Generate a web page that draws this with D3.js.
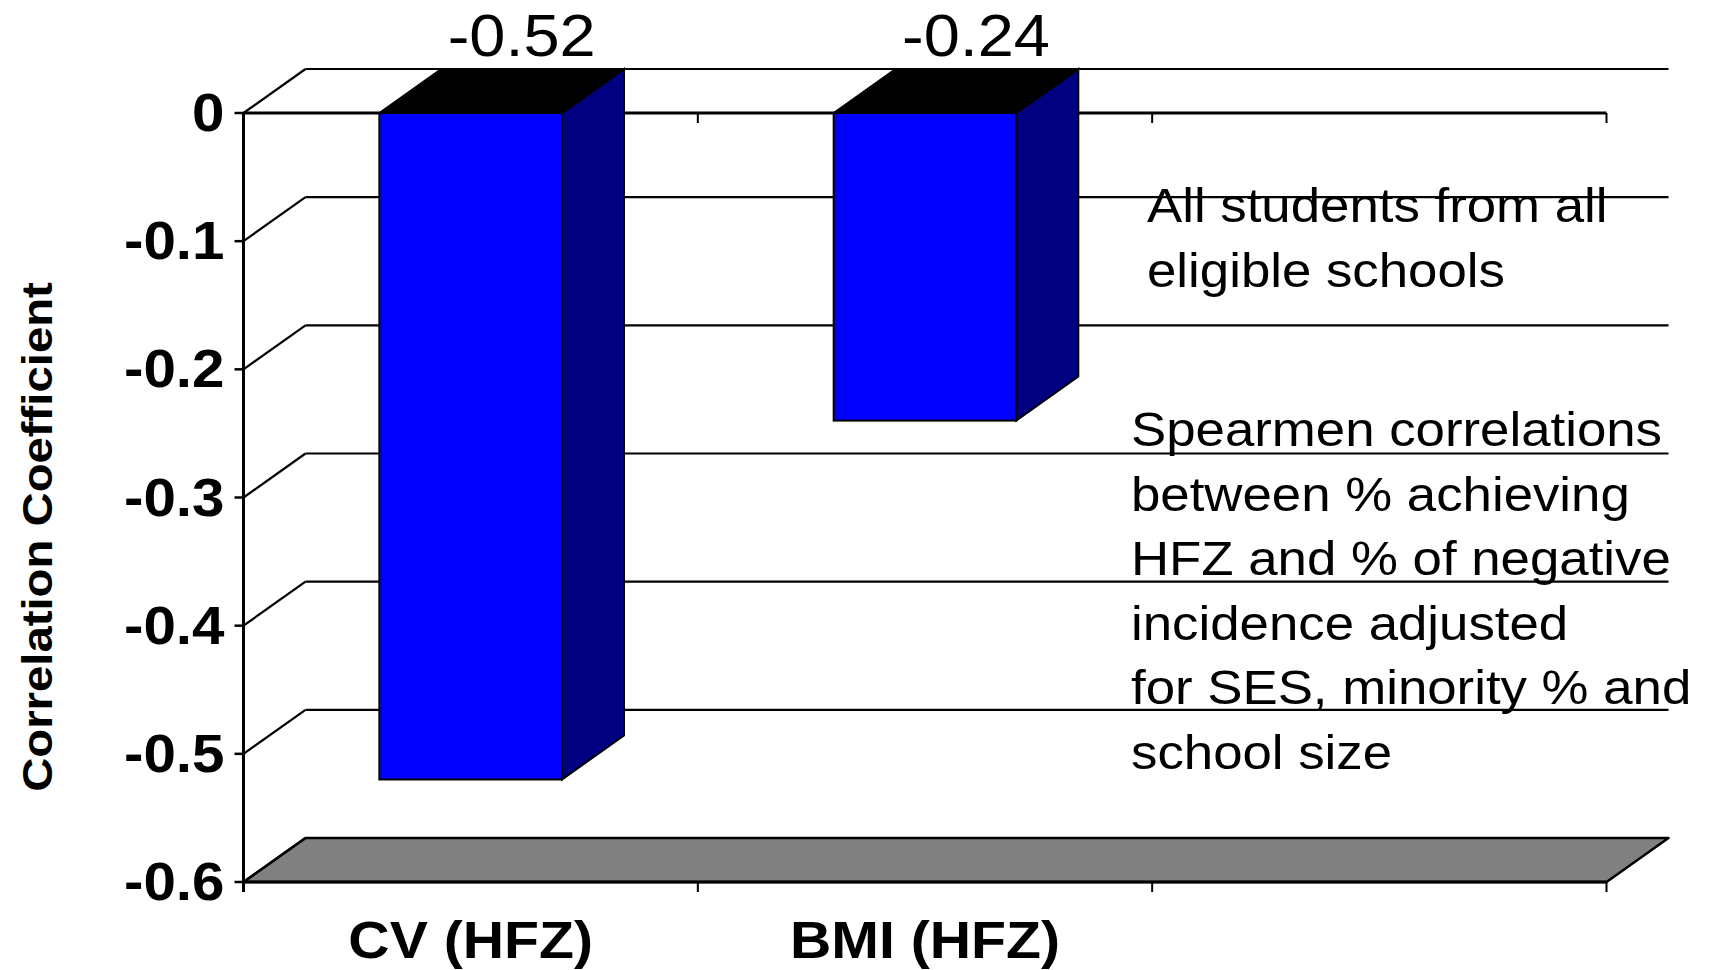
<!DOCTYPE html>
<html>
<head>
<meta charset="utf-8">
<script src="https://cdn.jsdelivr.net/npm/d3@7"></script>
<style>
  html, body { margin: 0; padding: 0; background: #fff; }
  svg { display: block; font-family: "Liberation Sans", Arial, sans-serif; }
</style>
</head>
<body>
<div id="chart"></div>
<script>
const categories = ["CV (HFZ)", "BMI (HFZ)", ""];
const values = [-0.52, -0.24, null];
const valueLabels = ["-0.52", "-0.24", ""];
const yTicks = [0, -0.1, -0.2, -0.3, -0.4, -0.5, -0.6];
const yTitle = "Correlation Coefficient";
const note1 = ["All students from all", "eligible schools"];
const note2 = ["Spearmen correlations", "between % achieving", "HFZ and % of negative",
               "incidence adjusted", "for SES, minority % and", "school size"];

const width = 1709, height = 970;
const dx = 62, dy = -44;   // 3d depth
const sx = 1.1;            // text looks a bit wide in the original

const svg = d3.select("#chart").append("svg")
    .attr("width", width)
    .attr("height", height);

const y = d3.scaleLinear().domain([0, -0.6]).range([113, 882]);
const x = d3.scaleBand().domain(categories).range([243.5, 1606.5]);
const barW = x.bandwidth() * 0.402;
const x0 = x.range()[0], x1 = x.range()[1];
const yBot = y(-0.6);

// floor
svg.append("path")
    .attr("d", `M${x0},${yBot}L${x1},${yBot}L${x1 + dx},${yBot + dy}L${x0 + dx},${yBot + dy}Z`)
    .attr("fill", "#808080").attr("stroke", "#000").attr("stroke-width", 2.5)
    .attr("stroke-linejoin", "round");

// gridlines on back wall + side diagonals
const grid = svg.append("g").attr("stroke", "#000").attr("stroke-width", 2.2).attr("fill", "none");
yTicks.forEach(v => {
    if (v !== -0.6) {
        grid.append("line")
            .attr("x1", x0 + dx).attr("x2", x1 + dx)
            .attr("y1", y(v) + dy).attr("y2", y(v) + dy);
    }
    grid.append("line")
        .attr("x1", x0).attr("y1", y(v))
        .attr("x2", x0 + dx).attr("y2", y(v) + dy);
});

// front line at 0 with category ticks
const axisG = svg.append("g").attr("stroke", "#000");
axisG.append("line")
    .attr("x1", x0).attr("x2", x1).attr("y1", y(0)).attr("y2", y(0))
    .attr("stroke-width", 3);
categories.forEach(c => {
    const xt = x(c) + x.bandwidth();
    axisG.append("line").attr("x1", xt).attr("x2", xt)
        .attr("y1", y(0)).attr("y2", y(0) + 10).attr("stroke-width", 2);
});

// bars
const bars = svg.append("g").selectAll("g")
    .data(categories.map((c, i) => ({ c, v: values[i], label: valueLabels[i] })).filter(d => d.v !== null))
    .enter().append("g");

bars.each(function(d) {
    const g = d3.select(this);
    const bx = x(d.c) + (x.bandwidth() - barW) / 2;
    const yt = y(0), yb = y(d.v);
    g.append("path")
        .attr("d", `M${bx + barW},${yt}L${bx + barW + dx},${yt + dy}L${bx + barW + dx},${yb + dy}L${bx + barW},${yb}Z`)
        .attr("fill", "#000080").attr("stroke", "#000").attr("stroke-width", 2);
    g.append("path")
        .attr("d", `M${bx},${yt}L${bx + dx},${yt + dy}L${bx + barW + dx},${yt + dy}L${bx + barW},${yt}Z`)
        .attr("fill", "#000").attr("stroke", "#000").attr("stroke-width", 2);
    g.append("rect")
        .attr("x", bx).attr("y", yt).attr("width", barW).attr("height", yb - yt)
        .attr("fill", "#0000ff").attr("stroke", "#000").attr("stroke-width", 2);
    g.append("text")
        .attr("transform", `translate(${bx + barW / 2 + 51},${yt + dy - 13}) scale(${sx},1)`)
        .attr("text-anchor", "middle")
        .attr("font-size", 59)
        .text(d.label);
});

// y axis
const yAxis = svg.append("g").attr("stroke", "#000");
yAxis.append("line").attr("x1", x0).attr("x2", x0)
    .attr("y1", y(0)).attr("y2", yBot + 10).attr("stroke-width", 3);
yTicks.forEach(v => {
    yAxis.append("line").attr("x1", x0 - 9).attr("x2", x0)
        .attr("y1", y(v)).attr("y2", y(v)).attr("stroke-width", 2.5);
});
svg.append("g").selectAll("text").data(yTicks).enter().append("text")
    .attr("transform", v => `translate(${x0 - 19},${y(v) + 18}) scale(${sx},1)`)
    .attr("text-anchor", "end")
    .attr("font-size", 53).attr("font-weight", "bold")
    .text(v => v === 0 ? "0" : v.toFixed(1));

// bottom category axis
yAxis.append("line").attr("x1", x0).attr("x2", x1)
    .attr("y1", yBot).attr("y2", yBot).attr("stroke-width", 3);
categories.forEach(c => {
    const xt = x(c) + x.bandwidth();
    yAxis.append("line").attr("x1", xt).attr("x2", xt)
        .attr("y1", yBot).attr("y2", yBot + 10).attr("stroke-width", 2);
});
svg.append("g").selectAll("text").data(categories.filter(c => c)).enter().append("text")
    .attr("transform", c => `translate(${x(c) + x.bandwidth() / 2},${958}) scale(${sx},1)`)
    .attr("text-anchor", "middle")
    .attr("font-size", 52).attr("font-weight", "bold")
    .text(c => c);

// axis title
svg.append("text")
    .attr("transform", `translate(52,537) scale(1,${sx}) rotate(-90)`)
    .attr("text-anchor", "middle")
    .attr("font-size", 43).attr("font-weight", "bold")
    .text(yTitle);

// notes
function note(lines, xx, y0) {
    svg.append("g").selectAll("text").data(lines).enter().append("text")
        .attr("transform", (t, i) => `translate(${xx},${y0 + i * 64.5}) scale(${sx},1)`)
        .attr("font-size", 48)
        .text(t => t);
}
note(note1, 1147, 222);
note(note2, 1131, 446);
</script>
</body>
</html>
